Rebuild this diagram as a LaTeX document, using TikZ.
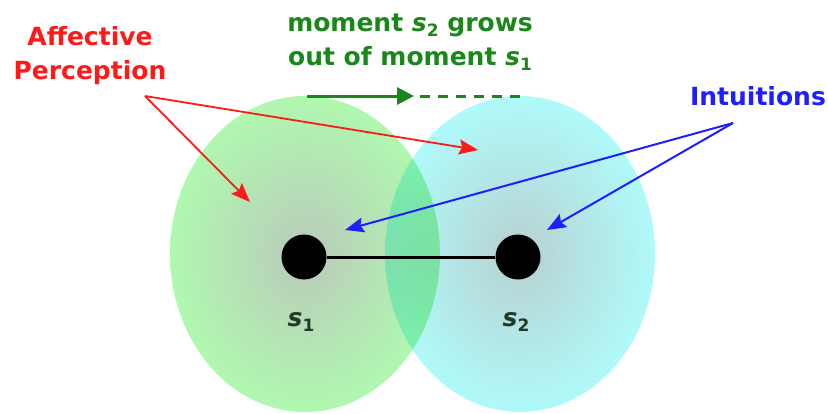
\documentclass[tikz,border=0pt]{standalone}
\usepackage{fontspec}
\setmainfont{DejaVu Sans}
\usetikzlibrary{arrows.meta}
\definecolor{affred}{RGB}{255,25,25}
\definecolor{grgreen}{RGB}{25,135,25}
\definecolor{intblue}{RGB}{30,30,255}
\definecolor{slabel}{RGB}{30,60,40}
\definecolor{gout}{RGB}{176,248,176}
\definecolor{gin}{RGB}{186,202,186}
\definecolor{cout}{RGB}{176,250,250}
\definecolor{cin}{RGB}{184,208,208}
\tikzset{
  lbl/.style={inner sep=0pt, font=\bfseries\fontsize{25}{34}\selectfont, align=center},
  slbl/.style={inner sep=0pt, text=slabel, font=\bfseries\itshape\fontsize{25}{25}\selectfont},
  redarrow/.style={draw=affred, line width=1.8pt, -{Stealth[length=19pt,width=15pt,inset=3pt]}},
  bluearrow/.style={draw=intblue, line width=2pt, -{Stealth[length=19pt,width=15pt,inset=3pt]}},
  dot/.style={circle, fill=black, minimum size=45pt, inner sep=0pt},
}
\newcommand{\subx}[1]{\raisebox{-0.22em}{\fontsize{17}{17}\selectfont\upshape #1}}
\begin{document}
\begin{tikzpicture}[x=1pt,y=-1pt]
\useasboundingbox (0,0) rectangle (828,413);
% ellipses
\shade[inner color=gin, outer color=gout] (305,254) ellipse [x radius=135, y radius=158];
\shade[blend mode=multiply, inner color=cin, outer color=cout] (520,254) ellipse [x radius=135, y radius=158];
% moments
\node[dot] (s1) at (304,257) {};
\node[dot] (s2) at (518,257) {};
\draw[line width=3pt] (s1) -- (s2);
\node[slbl] (l1) at (301,322) {s\subx{1}};
\node[slbl] (l2) at (516,322) {s\subx{2}};
% texts
\node[lbl, text=affred] (aff) at (90,56) {Affective\\Perception};
\node[lbl, text=grgreen] (grow) at (410,42) {moment \textit{s}\subx{2} grows\\out of moment \textit{s}\subx{1}};
\node[lbl, text=intblue] (int) at (758,96) {Intuitions};
% green arrow
\coordinate (ga) at (307,96);
\coordinate (gb) at (414,96);
\coordinate (gc) at (522,96);
\draw[grgreen, line width=3pt, -{Triangle[length=17pt,width=17pt]}] (ga) -- (gb);
\draw[grgreen, line width=3pt, dash pattern=on 10pt off 8pt] (gb) ++(6,0) -- (gc);
% red arrows
\coordinate (rv) at (145,96);
\coordinate (rt1) at (250,202);
\coordinate (rt2) at (478,150);
\draw[redarrow] (rv) -- (rt1);
\draw[redarrow] (rv) -- (rt2);
% blue arrows
\coordinate (bv) at (733,123);
\coordinate (bt1) at (345,230);
\coordinate (bt2) at (547,230);
\draw[bluearrow] (bv) -- (bt1);
\draw[bluearrow] (bv) -- (bt2);
\end{tikzpicture}
\end{document}
